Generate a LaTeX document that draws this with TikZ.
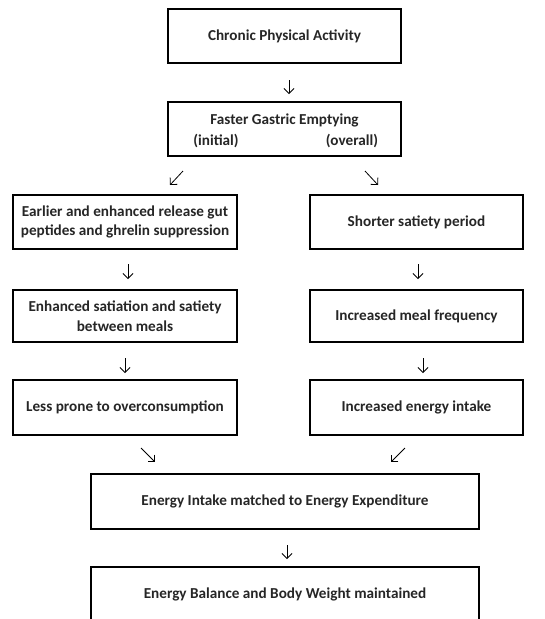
\documentclass[tikz,border=0pt]{standalone}
\usepackage{fontspec}
\setmainfont{Carlito}
\usetikzlibrary{arrows.meta}
\begin{document}
\begin{tikzpicture}[x=1pt,y=-1pt,
  box/.style={draw=black,line width=1.8pt,minimum height=54pt,inner sep=0pt,align=center,
    font=\fontsize{15.2}{19.5}\selectfont\bfseries,text=black!85},
  lbl/.style={font=\fontsize{15.2}{19.5}\selectfont\bfseries,text=black!85,inner sep=0pt},
  arr/.style={line width=0.8pt,-{Straight Barb[length=5pt,width=10pt,line width=0.8pt]}}]
\useasboundingbox[fill=white] (0,0) rectangle (545,619);
\node[box,minimum width=233pt] (top) at (284.5,36) {Chronic Physical Activity};
\node[box,minimum width=233pt] (gas) at (284.5,129) {};
\node[lbl] (gast) at (284.5,120) {Faster Gastric Emptying};
\node[lbl] (ini) at (216,141) {(initial)};
\node[lbl] (ove) at (352,141) {(overall)};
\node[box,minimum width=224pt] (l1) at (125,222) {Earlier and enhanced release gut\\peptides and ghrelin suppression};
\node[box,minimum width=213pt] (r1) at (416.5,222) {Shorter satiety period};
\node[box,minimum width=224pt,minimum height=52pt] (l2) at (125,316) {Enhanced satiation and satiety\\between meals};
\node[box,minimum width=213pt,minimum height=52pt] (r2) at (416.5,316) {Increased meal frequency};
\node[box,minimum width=224pt,minimum height=55pt] (l3) at (125,407.5) {Less prone to overconsumption};
\node[box,minimum width=213pt,minimum height=55pt] (r3) at (416.5,407.5) {Increased energy intake};
\node[box,minimum width=388pt,minimum height=55pt] (b1) at (285,501.5) {Energy Intake matched to Energy Expenditure};
\node[box,minimum width=388pt,minimum height=55pt] (b2) at (285,594.5) {Energy Balance and Body Weight maintained};
% arrow glyph positions
\coordinate (a1s) at (289,80); \coordinate (a1e) at (289,94);
\coordinate (a2s) at (183,171); \coordinate (a2e) at (170,185);
\coordinate (a3s) at (365,171); \coordinate (a3e) at (378,185);
\coordinate (a4s) at (128,264); \coordinate (a4e) at (128,279);
\coordinate (a5s) at (418,264); \coordinate (a5e) at (418,279);
\coordinate (a6s) at (125,358); \coordinate (a6e) at (125,373);
\coordinate (a7s) at (423,358); \coordinate (a7e) at (423,373);
\coordinate (a8s) at (141,448); \coordinate (a8e) at (155,462);
\coordinate (a9s) at (405,448); \coordinate (a9e) at (391,462);
\coordinate (a10s) at (287,545); \coordinate (a10e) at (287,559);
\foreach \i in {1,...,10} {\draw[arr] (a\i s) -- (a\i e);}
\end{tikzpicture}
\end{document}
